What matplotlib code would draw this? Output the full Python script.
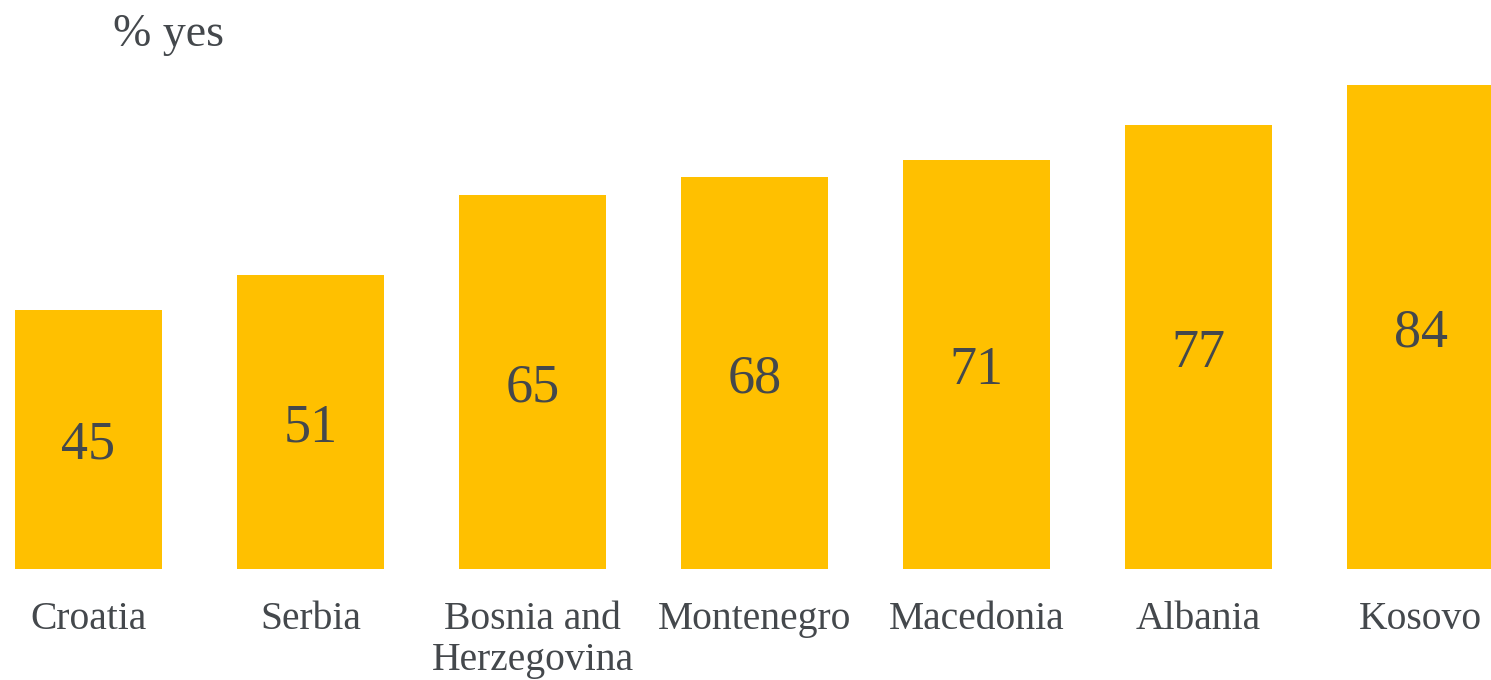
import matplotlib
matplotlib.use("Agg")
import matplotlib.pyplot as plt
import numpy as np

countries = ["Croatia", "Serbia", "Bosnia and\nHerzegovina", "Montenegro",
             "Macedonia", "Albania", "Kosovo"]
values = [45, 51, 65, 68, 71, 77, 84]

BAR = "#FFC000"
TEXT = "#44484c"
plt.rcParams["font.family"] = ["Liberation Serif", "DejaVu Serif"]

fig = plt.figure(figsize=(14.91, 6.80), dpi=100)
ax = fig.add_axes([0, 0.1632, 1, 0.7624])

x = np.arange(len(values))
ax.bar(x, values, width=0.662, color=BAR)
for xi, v in zip(x, values):
    ax.text(xi, v / 2, str(v), ha="center", va="center_baseline",
            fontsize=39, color=TEXT)

ax.set_xlim(-88.5 / 222, (1491 - 88.5) / 222)
ax.set_ylim(0, 90)
ax.set_xticks(x)
ax.set_xticklabels(countries, fontsize=28.5, color=TEXT, linespacing=1.15)
ax.tick_params(axis="x", length=0, pad=23)
ax.set_yticks([])
for s in ax.spines.values():
    s.set_visible(False)

fig.text(113 / 1491, 1 - 46 / 680, "% yes", fontsize=33, color=TEXT,
         ha="left", va="baseline")

fig.savefig("out.png", dpi=100)
